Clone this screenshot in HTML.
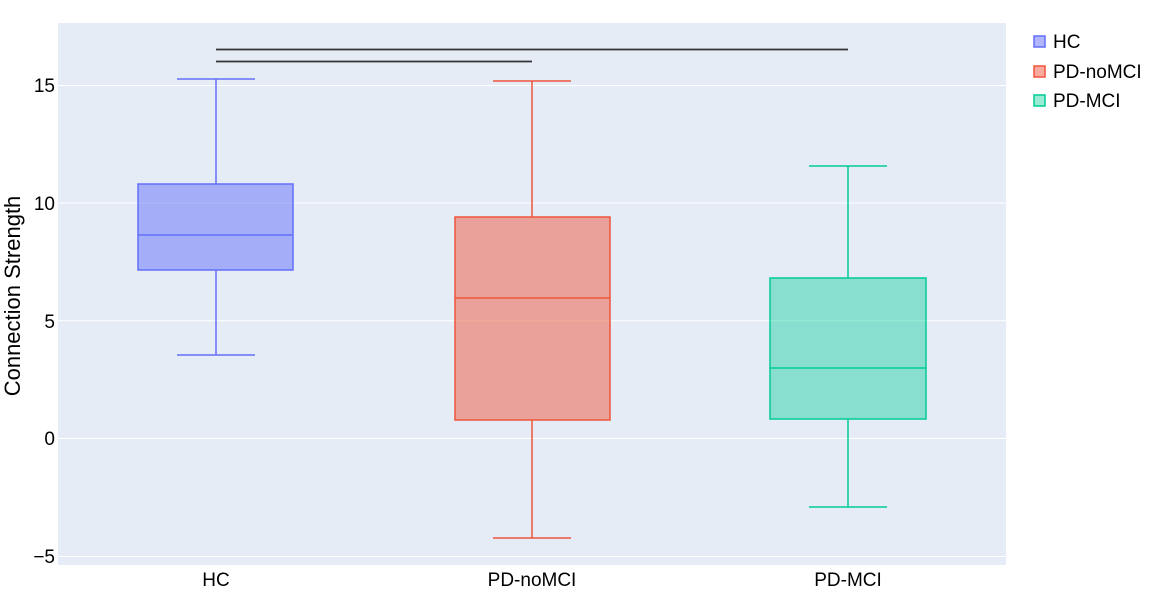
<!DOCTYPE html>
<html><head><style>body{margin:0;background:#fff}svg{display:block;font-family:"Liberation Sans",Arial,sans-serif}</style></head>
<body>
<svg width="1155" height="612" viewBox="0 0 1155 612">
<rect x="58" y="23" width="948" height="542" fill="#e5ecf6"/>
<g stroke="#fff" stroke-width="1">
<line x1="58" x2="1006" y1="85.5" y2="85.5"/>
<line x1="58" x2="1006" y1="203" y2="203"/>
<line x1="58" x2="1006" y1="320.7" y2="320.7"/>
<line x1="58" x2="1006" y1="438.5" y2="438.5"/>
<line x1="58" x2="1006" y1="556.5" y2="556.5"/>
</g>
<g font-size="19" fill="#000" text-anchor="end">
<text x="55" y="92">15</text>
<text x="55" y="210">10</text>
<text x="55" y="328">5</text>
<text x="55" y="445">0</text>
<text x="55" y="563">−5</text>
</g>
<text transform="translate(20,296) rotate(-90)" font-size="22" text-anchor="middle">Connection Strength</text>
<g font-size="19" text-anchor="middle">
<text x="216" y="586">HC</text>
<text x="532" y="586">PD-noMCI</text>
<text x="848" y="586">PD-MCI</text>
</g>
<g stroke="#636efa" stroke-width="1.5" fill="none">
<line x1="216" x2="216" y1="79" y2="184"/><line x1="216" x2="216" y1="270" y2="355"/>
<line x1="177" x2="255" y1="79" y2="79"/><line x1="177" x2="255" y1="355" y2="355"/>
<rect x="138" y="184" width="155" height="86" fill="rgba(99,110,250,0.5)"/>
<line x1="138" x2="293" y1="235" y2="235"/>
</g>
<g stroke="#ef553b" stroke-width="1.5" fill="none">
<line x1="532" x2="532" y1="81" y2="217"/><line x1="532" x2="532" y1="420" y2="538"/>
<line x1="493" x2="571" y1="81" y2="81"/><line x1="493" x2="571" y1="538" y2="538"/>
<rect x="455" y="217" width="155" height="203" fill="rgba(239,85,59,0.5)"/>
<line x1="455" x2="610" y1="298" y2="298"/>
</g>
<g stroke="#00cc96" stroke-width="1.5" fill="none">
<line x1="848" x2="848" y1="166" y2="278"/><line x1="848" x2="848" y1="419" y2="507"/>
<line x1="809" x2="887" y1="166" y2="166"/><line x1="809" x2="887" y1="507" y2="507"/>
<rect x="770" y="278" width="156" height="141" fill="rgba(0,204,150,0.4)"/>
<line x1="770" x2="926" y1="368" y2="368"/>
</g>
<g stroke="#333" stroke-width="1.8">
<line x1="216" x2="848" y1="49.5" y2="49.5"/>
<line x1="216" x2="532" y1="61.5" y2="61.5"/>
</g>
<g font-size="19">
<rect x="1034" y="36" width="11" height="11" fill="rgba(99,110,250,0.5)" stroke="#636efa" stroke-width="1.5"/>
<text x="1053" y="48">HC</text>
<rect x="1034" y="66" width="11" height="11" fill="rgba(239,85,59,0.5)" stroke="#ef553b" stroke-width="1.5"/>
<text x="1053" y="78">PD-noMCI</text>
<rect x="1034" y="95" width="11" height="11" fill="rgba(0,204,150,0.4)" stroke="#00cc96" stroke-width="1.5"/>
<text x="1053" y="107">PD-MCI</text>
</g>
</svg>
</body></html>
